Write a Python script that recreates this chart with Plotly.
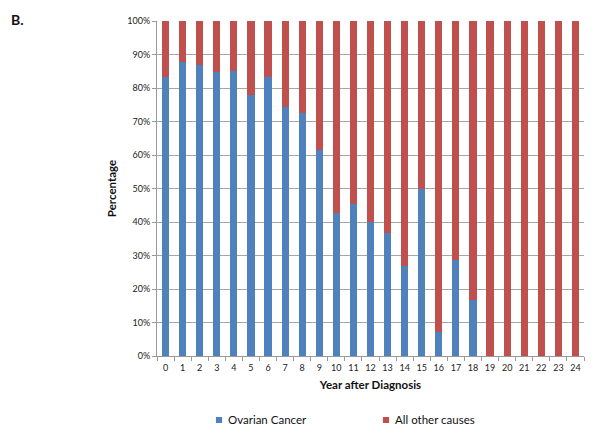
import plotly.graph_objects as go

years = [str(i) for i in range(25)]
ovarian = [83.3, 87.8, 86.8, 84.8, 85.0, 77.8, 83.3, 74.4, 72.4, 61.4, 42.8, 45.3, 40.1, 36.8, 26.8, 50.0, 7.1, 28.6, 16.8, 0, 0, 0, 0, 0, 0]
other = [100 - v for v in ovarian]
yticks = [0, 10, 20, 30, 40, 50, 60, 70, 80, 90, 100]
ytick_labels = [f"{v}%" for v in yticks]
series_names = ["Ovarian Cancer", "All other causes"]
series_colors = ["#4F81BD", "#C0504D"]

font_family = "Lato, Liberation Sans, Arial, sans-serif"

fig = go.Figure()
for vals, name, col in zip([ovarian, other], series_names, series_colors):
    fig.add_trace(go.Bar(x=years, y=vals, name=name, marker=dict(color=col, line=dict(width=0))))

fig.update_layout(
    barmode="stack",
    bargap=0.58,
    width=600, height=434,
    margin=dict(l=149, r=24, t=13, b=86, autoexpand=False),
    paper_bgcolor="white", plot_bgcolor="white",
    font=dict(family=font_family, size=9, color="#222"),
    showlegend=False,
)

# "B." panel label
fig.add_annotation(text="<b>B.</b>", xref="paper", yref="paper", x=-0.346, y=1.036,
                   xanchor="left", yanchor="top", showarrow=False, font=dict(size=14, color="#111"))

# manual legend
legend_x = [0.138, 0.529]
for lx, name, col in zip(legend_x, series_names, series_colors):
    fig.add_shape(type="rect", xref="paper", yref="paper", x0=lx, x1=lx + 0.0145,
                  y0=-0.2, y1=-0.182, fillcolor=col, line=dict(width=0))
    fig.add_annotation(text=name, xref="paper", yref="paper", x=lx + 0.0235, y=-0.191,
                       xanchor="left", yanchor="middle", showarrow=False,
                       font=dict(size=11.5, color="#111"))

fig.update_xaxes(type="category", tickson="boundaries", ticks="outside", ticklen=4, tickcolor="#999",
                 tickangle=0, automargin=False, ticklabelstandoff=3,
                 showline=True, linecolor="#999", linewidth=1, showgrid=False,
                 title=dict(text="<b>Year after Diagnosis</b>", font=dict(size=11.5, color="#111"), standoff=9))
fig.update_yaxes(range=[0, 100], tickvals=yticks, ticktext=ytick_labels, ticks="outside", ticklen=4,
                 tickcolor="#999", showline=True, linecolor="#999", linewidth=1, automargin=False,
                 showgrid=True, gridcolor="#a6a6a6", gridwidth=1, zeroline=False,
                 title=dict(text="<b>Percentage</b>", font=dict(size=11.5, color="#111"), standoff=8))

fig.write_html("out.html")
